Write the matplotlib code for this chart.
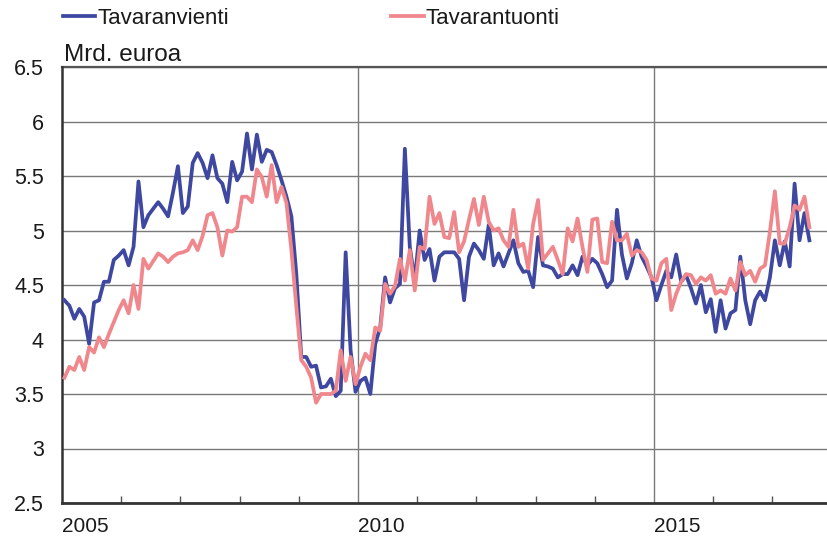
import numpy as np
import matplotlib
matplotlib.use("Agg")
import matplotlib.pyplot as plt
from matplotlib.ticker import MultipleLocator, FuncFormatter

# monthly values, Jan 2005 - Aug 2017 (Mrd. euroa)
vienti = [
    4.36, 4.31, 4.19, 4.28, 4.21, 3.96, 4.34, 4.36, 4.53, 4.53, 4.73, 4.77,   # 2005
    4.82, 4.68, 4.85, 5.45, 5.03, 5.14, 5.20, 5.26, 5.20, 5.13, 5.35, 5.59,   # 2006
    5.16, 5.22, 5.62, 5.71, 5.62, 5.48, 5.69, 5.48, 5.43, 5.26, 5.63, 5.46,   # 2007
    5.54, 5.89, 5.56, 5.88, 5.63, 5.74, 5.72, 5.60, 5.46, 5.31, 5.13, 4.60,   # 2008
    3.84, 3.84, 3.75, 3.76, 3.56, 3.57, 3.64, 3.48, 3.53, 4.80, 3.90, 3.52,   # 2009
    3.62, 3.65, 3.50, 3.96, 4.11, 4.57, 4.34, 4.47, 4.51, 5.75, 4.85, 4.54,   # 2010
    5.00, 4.73, 4.83, 4.54, 4.76, 4.80, 4.80, 4.80, 4.74, 4.36, 4.76, 4.88,   # 2011
    4.82, 4.74, 5.05, 4.68, 4.79, 4.67, 4.79, 4.91, 4.70, 4.62, 4.63, 4.48,   # 2012
    4.94, 4.68, 4.67, 4.65, 4.57, 4.60, 4.60, 4.68, 4.59, 4.76, 4.68, 4.74,   # 2013
    4.70, 4.60, 4.48, 4.54, 5.19, 4.78, 4.56, 4.70, 4.91, 4.76, 4.67, 4.57,   # 2014
    4.36, 4.50, 4.63, 4.57, 4.78, 4.53, 4.59, 4.47, 4.33, 4.50, 4.25, 4.37,   # 2015
    4.07, 4.36, 4.10, 4.24, 4.27, 4.76, 4.36, 4.14, 4.36, 4.44, 4.36, 4.57,   # 2016
    4.91, 4.68, 4.90, 4.67, 5.43, 4.91, 5.16, 4.91,                           # 2017
]

tuonti = [
    3.65, 3.75, 3.72, 3.84, 3.72, 3.93, 3.88, 4.02, 3.93, 4.05, 4.16, 4.27,   # 2005
    4.36, 4.24, 4.50, 4.28, 4.74, 4.65, 4.72, 4.79, 4.76, 4.71, 4.76, 4.79,   # 2006
    4.80, 4.82, 4.91, 4.82, 4.95, 5.14, 5.16, 5.03, 4.77, 5.00, 4.99, 5.03,   # 2007
    5.31, 5.31, 5.26, 5.56, 5.49, 5.31, 5.60, 5.26, 5.40, 5.25, 4.82, 4.30,   # 2008
    3.81, 3.75, 3.65, 3.42, 3.50, 3.50, 3.50, 3.53, 3.90, 3.62, 3.84, 3.59,   # 2009
    3.75, 3.87, 3.81, 4.11, 4.08, 4.51, 4.42, 4.49, 4.74, 4.54, 4.82, 4.45,   # 2010
    4.85, 4.83, 5.31, 5.06, 5.16, 4.94, 4.93, 5.17, 4.80, 4.90, 5.10, 5.29,   # 2011
    5.05, 5.31, 5.08, 5.00, 5.02, 4.91, 4.85, 5.19, 4.85, 4.88, 4.65, 5.06,   # 2012
    5.28, 4.73, 4.79, 4.85, 4.73, 4.60, 5.02, 4.90, 5.11, 4.85, 4.62, 5.10,   # 2013
    5.11, 4.71, 4.70, 5.08, 4.91, 4.91, 4.97, 4.77, 4.82, 4.80, 4.73, 4.56,   # 2014
    4.54, 4.70, 4.74, 4.27, 4.42, 4.53, 4.60, 4.59, 4.51, 4.57, 4.54, 4.59,   # 2015
    4.42, 4.45, 4.42, 4.56, 4.45, 4.71, 4.59, 4.63, 4.53, 4.65, 4.68, 4.99,   # 2016
    5.36, 4.88, 4.88, 5.03, 5.23, 5.19, 5.31, 5.03,                           # 2017
]

start_year = 2005
months = np.arange(len(vienti))
x = start_year + (months + 0.5) / 12.0

plt.rcParams['font.family'] = ['Liberation Sans', 'DejaVu Sans']
text_col = '#1a1a1a'
grid_col = '#7a7a7a'

fig = plt.figure(figsize=(8.27, 5.39), dpi=100)
ax = fig.add_axes([62 / 827, 36 / 539, 1 - 62 / 827, (503 - 67) / 539])

l1, = ax.plot(x, vienti, color='#3f48a0', lw=2.7, solid_joinstyle='round', zorder=3)
l2, = ax.plot(x, tuonti, color='#f0878c', lw=2.7, solid_joinstyle='round', zorder=3)

ax.set_xlim(2005, 2005 + 765 / 59.2)
ax.set_ylim(2.5, 6.5)

# horizontal grid
ax.yaxis.set_major_locator(MultipleLocator(0.5))
ax.yaxis.set_major_formatter(FuncFormatter(lambda v, p: '%g' % v))
ax.grid(axis='y', color=grid_col, lw=1.0, zorder=1)
ax.axhline(6.5, color='#555555', lw=1.6, zorder=2, clip_on=False)

# vertical lines every five years
for yr in [2010, 2015]:
    ax.axvline(yr, color=grid_col, lw=1.0, zorder=1)

ax.set_xticks([2005, 2010, 2015])
ax.set_xticklabels(['2005', '2010', '2015'], ha='left')
ax.set_xticks(np.arange(2006, 2018), minor=True)
ax.tick_params(axis='x', which='major', length=0, pad=10, labelsize=15, labelcolor=text_col)
ax.tick_params(axis='x', which='minor', direction='in', length=5, width=1, color='#555555')
ax.tick_params(axis='y', length=0, pad=13, labelsize=15.5, labelcolor=text_col)

for s in ['top', 'right']:
    ax.spines[s].set_visible(False)
ax.spines['left'].set_color('#333333')
ax.spines['left'].set_linewidth(1.8)
ax.spines['bottom'].set_color('#333333')
ax.spines['bottom'].set_linewidth(2.0)

fig.text(64 / 827, 1 - 61 / 539, 'Mrd. euroa', fontsize=17.5, color=text_col, va='baseline')

fig.legend([l1, l2], ['Tavaranvienti', 'Tavarantuonti'], ncol=2, frameon=False,
           loc='center left', bbox_to_anchor=(63 / 827, 1 - 18 / 539),
           borderpad=0, borderaxespad=0, handlelength=1.45, handletextpad=0.1,
           columnspacing=7.3, fontsize=16, labelcolor=text_col)

fig.savefig('out.png', dpi=100)
